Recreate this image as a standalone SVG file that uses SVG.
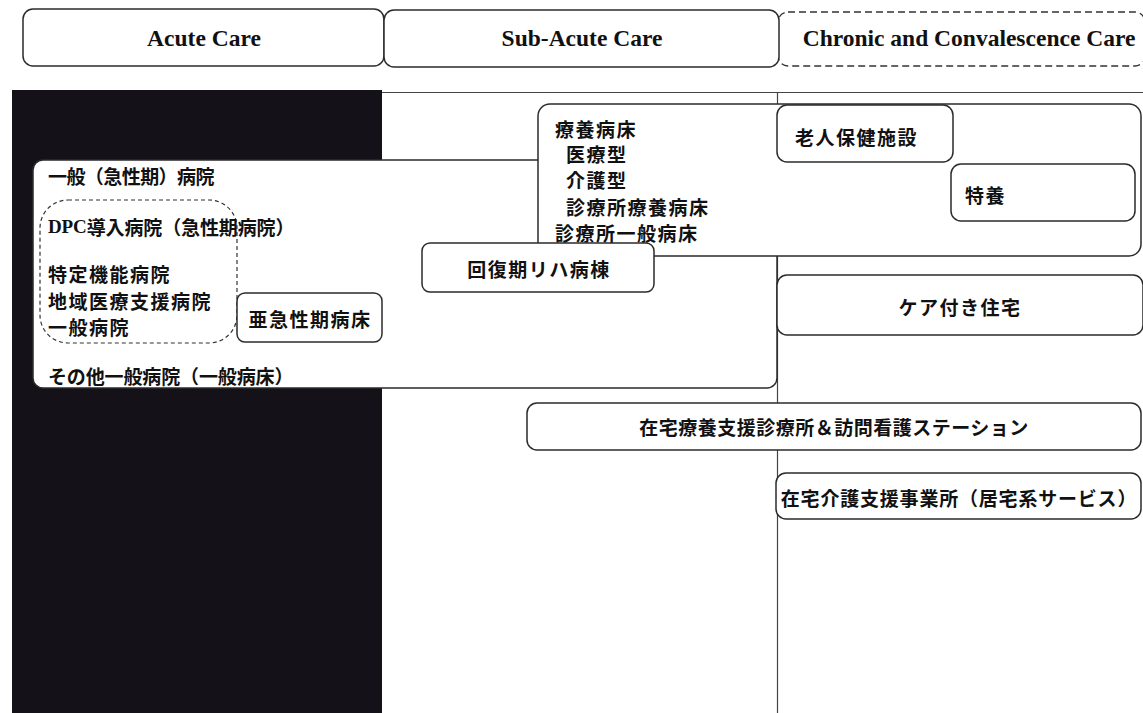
<svg xmlns="http://www.w3.org/2000/svg" width="1143" height="713" viewBox="0 0 1143 713">
<style>
.box{fill:#fff;stroke:#2b2b2b;stroke-width:1.5}
.hdr{font-family:"Liberation Serif",serif;font-weight:bold;font-size:23.5px;fill:#111;text-anchor:middle}
.jp{font-family:"Noto Sans CJK JP",sans-serif;font-weight:bold;font-size:19px;fill:#111;letter-spacing:1.5px;dominant-baseline:central}
.mid{text-anchor:middle}
.lane{stroke:#444;stroke-width:1.2;fill:none}
</style>
<rect x="0" y="0" width="1143" height="713" fill="#fff"/>
<g id="headers">
  <g id="acute-care">
    <rect class="box" x="23" y="9" width="361" height="57" rx="10"/>
    <text class="hdr" x="204" y="46">Acute Care</text>
  </g>
  <g id="chronic-care">
    <rect x="778" y="12" width="367" height="54" rx="10" fill="#fff" stroke="#333" stroke-width="1.3" stroke-dasharray="7,4"/>
    <text class="hdr" x="969" y="46">Chronic and Convalescence Care</text>
  </g>
  <g id="sub-acute-care">
    <rect class="box" x="384" y="10" width="395" height="57" rx="10"/>
    <text class="hdr" x="582" y="46">Sub-Acute Care</text>
  </g>
</g>
<g id="lanes">
  <rect x="12" y="90" width="370" height="623" fill="#141218"/>
  <line class="lane" x1="382" y1="92.5" x2="1143" y2="92.5"/>
  <line class="lane" x1="777.5" y1="92.5" x2="777.5" y2="713"/>
</g>
<g id="connectors"></g>
<g id="general-hospital">
  <rect class="box" x="33" y="160" width="744" height="228" rx="10"/>
  <text class="jp" x="48" y="175" textLength="168" lengthAdjust="spacing">一般（急性期）病院</text>
  <text class="jp" x="48" y="375" textLength="247" lengthAdjust="spacing">その他一般病院（一般病床）</text>
</g>
<g id="dpc-hospitals">
  <rect x="40" y="200" width="197" height="143" rx="28" fill="none" stroke="#333" stroke-width="1.2" stroke-dasharray="4,3"/>
  <text class="jp" x="48" y="226" textLength="248" lengthAdjust="spacing"><tspan style="font-family:'Liberation Serif',serif">DPC</tspan>導入病院（急性期病院）</text>
  <text class="jp" x="48" y="273">特定機能病院</text>
  <text class="jp" x="48" y="300">地域医療支援病院</text>
  <text class="jp" x="48" y="326">一般病院</text>
</g>
<g id="sub-acute-beds">
  <rect class="box" x="237" y="293" width="145" height="49" rx="8"/>
  <text class="jp mid" x="310" y="318">亜急性期病床</text>
</g>
<g id="long-term-beds">
  <rect class="box" x="538" y="104" width="603" height="152" rx="12"/>
  <text class="jp" x="555" y="128">療養病床</text>
  <text class="jp" x="566" y="153">医療型</text>
  <text class="jp" x="566" y="179">介護型</text>
  <text class="jp" x="566" y="206">診療所療養病床</text>
  <text class="jp" x="555" y="232">診療所一般病床</text>
</g>
<g id="rehab-ward">
  <rect class="box" x="422" y="243" width="232" height="49" rx="8"/>
  <text class="jp mid" x="539" y="268">回復期リハ病棟</text>
</g>
<g id="geriatric-facility">
  <rect class="box" x="777" y="105" width="176" height="57" rx="10"/>
  <text class="jp" x="795" y="136">老人保健施設</text>
</g>
<g id="tokuyo">
  <rect class="box" x="951" y="164" width="184" height="57" rx="10"/>
  <text class="jp" x="965" y="194">特養</text>
</g>
<g id="care-housing">
  <rect class="box" x="777" y="275" width="366" height="60" rx="10"/>
  <text class="jp mid" x="960" y="306">ケア付き住宅</text>
</g>
<g id="home-care-clinic">
  <rect class="box" x="527" y="403" width="614" height="47" rx="10"/>
  <text class="jp mid" x="834" y="426" style="letter-spacing:0.5px">在宅療養支援診療所＆訪問看護ステーション</text>
</g>
<g id="home-care-support">
  <rect class="box" x="776" y="473" width="365" height="46" rx="10"/>
  <text class="jp mid" x="959" y="497" style="letter-spacing:0.8px">在宅介護支援事業所（居宅系サービス）</text>
</g>
</svg>
